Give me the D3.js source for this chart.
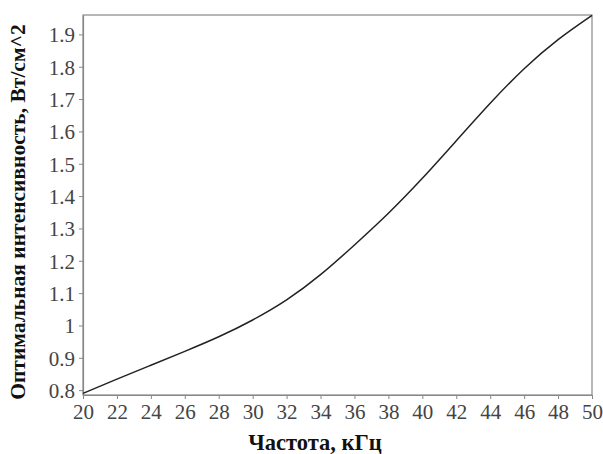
<!DOCTYPE html>
<html lang="ru">
<head>
    <meta charset="UTF-8">
    <title>Оптимальная интенсивность</title>
    <script src="https://d3js.org/d3.v7.min.js"></script>
    <style>
        body { margin: 0; background: #fff; }
        svg text { font-family: "Liberation Serif", "Times New Roman", serif; }
        .axis-title { font-weight: bold; fill: #111; }
    </style>
</head>
<body>
    <div id="chart"></div>
    <script>
        // Частота, кГц
        const freq = [20, 22, 24, 26, 28, 30, 32, 34, 36, 38, 40, 42, 44, 46, 48, 50];
        // Оптимальная интенсивность, Вт/см^2
        const intensity = [0.79, 0.834, 0.877, 0.92, 0.965, 1.017, 1.079, 1.157,
                           1.249, 1.347, 1.455, 1.571, 1.687, 1.794, 1.884, 1.959];
        const xTicks = d3.range(20, 51, 2);
        const yTicks = [0.8, 0.9, 1, 1.1, 1.2, 1.3, 1.4, 1.5, 1.6, 1.7, 1.8, 1.9];

        const W = 603, H = 454;
        const margin = { top: 15, right: 11, bottom: 59, left: 83 };
        const width = W - margin.left - margin.right,
              height = H - margin.top - margin.bottom;

        const svg = d3.select("#chart").append("svg")
            .attr("width", W)
            .attr("height", H);
        const g = svg.append("g")
            .attr("transform", `translate(${margin.left},${margin.top})`);

        const x = d3.scaleLinear().domain([20, 50]).range([0, width]);
        const y = d3.scaleLinear().domain([0.785, 1.96]).range([height, 0]);

        // frame
        g.append("rect")
            .attr("width", width)
            .attr("height", height)
            .attr("fill", "none")
            .attr("stroke", "#888")
            .attr("stroke-width", 1.2);

        const xAxis = g.append("g")
            .attr("transform", `translate(0,${height})`)
            .call(d3.axisBottom(x).tickValues(xTicks).tickSize(4).tickPadding(5).tickSizeOuter(0));
        const yAxis = g.append("g")
            .call(d3.axisLeft(y).tickValues(yTicks).tickSize(4).tickPadding(4).tickSizeOuter(0)
                .tickFormat(d => d3.format("")(d)));
        [xAxis, yAxis].forEach(a => {
            a.attr("font-family", null).attr("font-size", null);
            a.select(".domain").attr("stroke", "#888").attr("stroke-width", 1.2);
            a.selectAll(".tick line").attr("stroke", "#888");
            a.selectAll(".tick text")
                .attr("fill", "#444")
                .style("font-size", "21px");
        });
        xAxis.selectAll(".tick text").attr("dy", "0.71em");
        yAxis.selectAll(".tick text").attr("dy", "0.35em");

        // curve
        const line = d3.line()
            .x((d, i) => x(freq[i]))
            .y(d => y(d))
            .curve(d3.curveNatural);
        g.append("path")
            .datum(intensity)
            .attr("fill", "none")
            .attr("stroke", "#222")
            .attr("stroke-width", 1.5)
            .attr("d", line);

        // axis titles
        svg.append("text")
            .attr("class", "axis-title")
            .attr("x", 315)
            .attr("y", 450)
            .style("font-size", "22.5px")
            .attr("text-anchor", "middle")
            .text("Частота, кГц");
        svg.append("text")
            .attr("class", "axis-title")
            .attr("transform", "translate(25,212) rotate(-90)")
            .style("font-size", "21.5px")
            .attr("text-anchor", "middle")
            .text("Оптимальная интенсивность, Вт/см^2");
    </script>
</body>
</html>
